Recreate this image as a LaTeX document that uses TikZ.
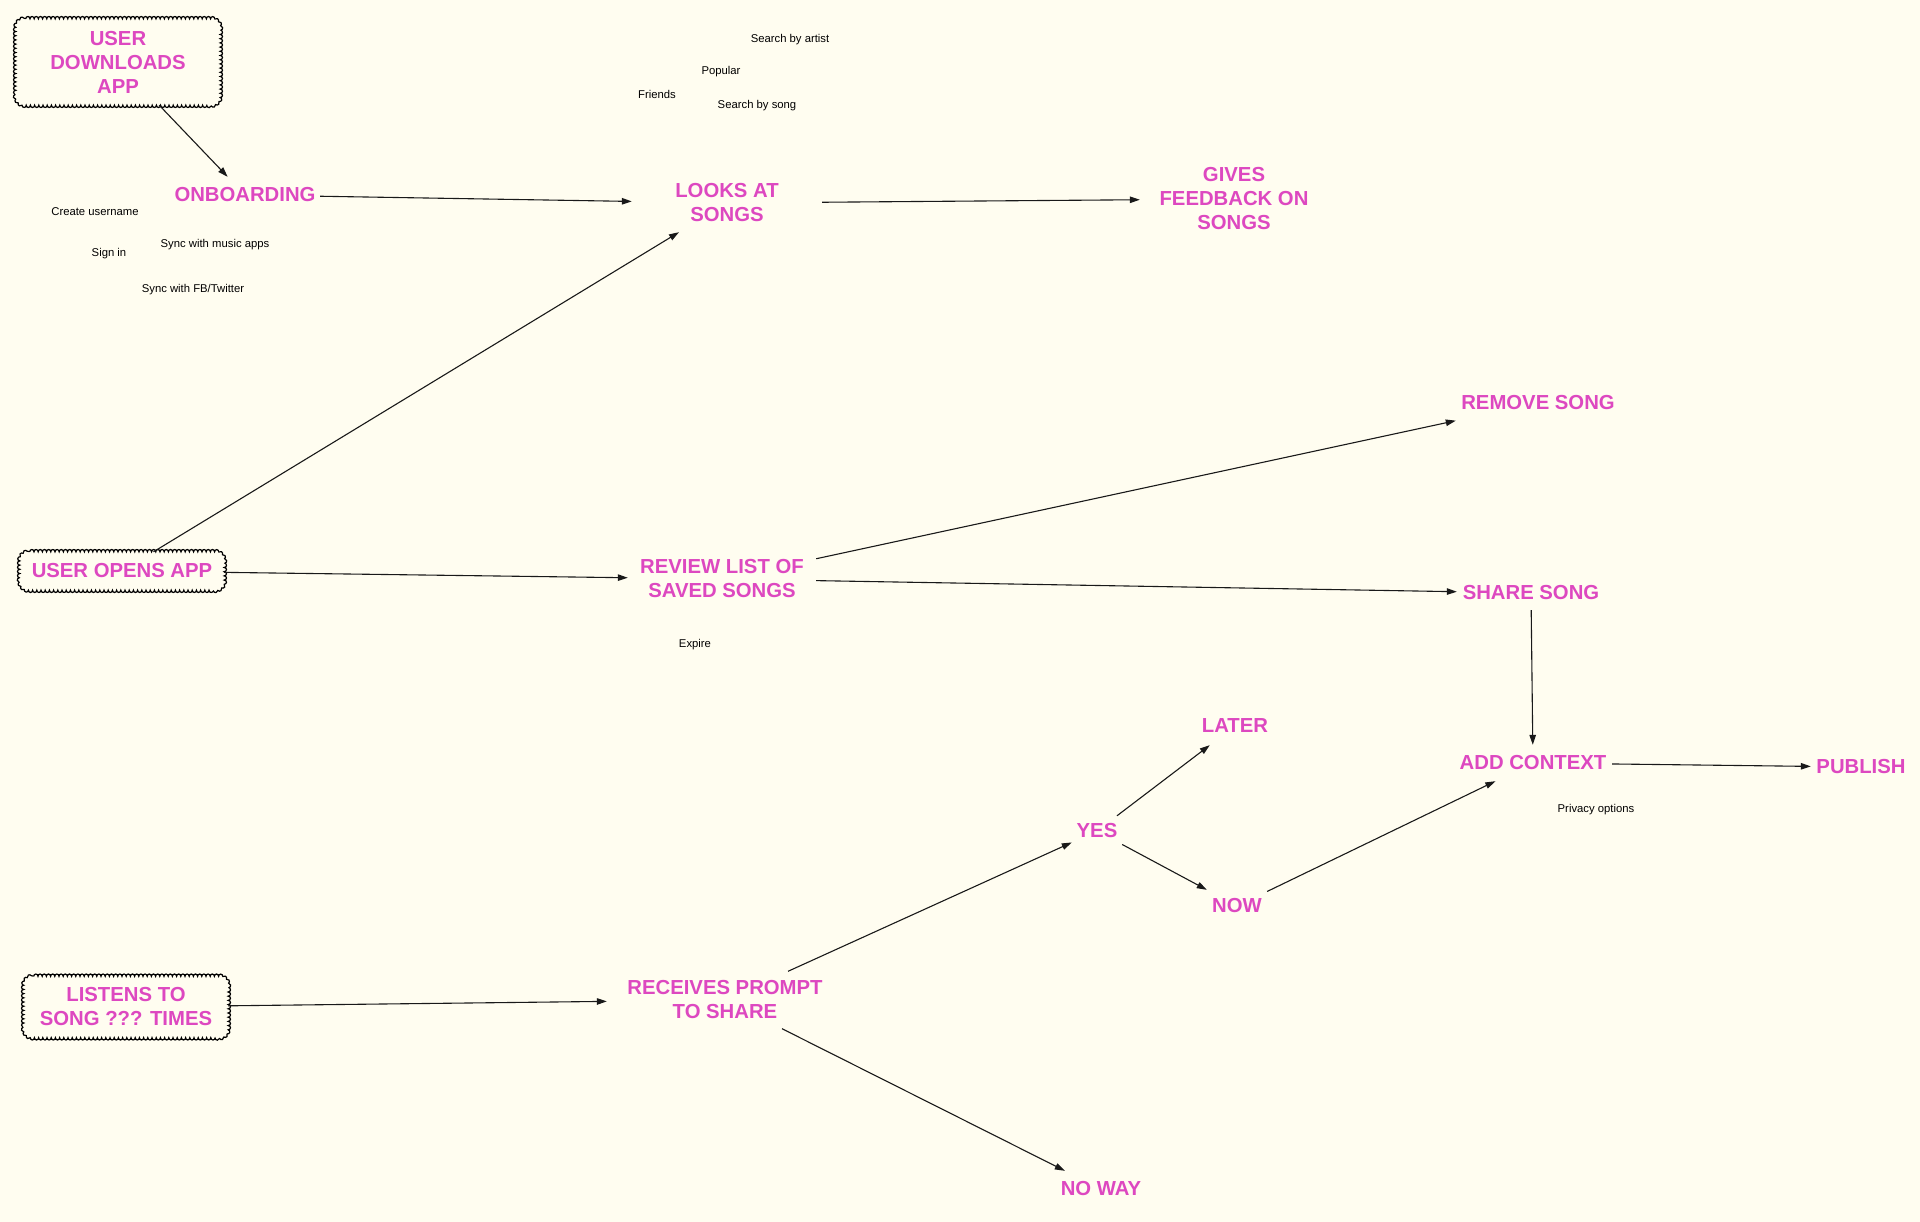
\documentclass[tikz,border=0pt]{standalone}
\usepackage{fontspec}
\setmainfont{Liberation Sans}
\usetikzlibrary{arrows.meta,decorations.pathmorphing,calc}
\definecolor{bgcream}{RGB}{255,253,240}
\definecolor{pinktxt}{RGB}{221,72,192}
\definecolor{arrowcol}{RGB}{25,25,25}
\tikzset{
  x=1pt, y=-1pt,
  pinknode/.style={text=pinktxt, inner sep=0pt, align=center,
    font=\bfseries\fontsize{20.3}{24}\selectfont},
  cloudbox/.style={pinknode},
  scallop/.style={draw=black, line width=1.2pt, decorate,
    decoration={bumps, segment length=8.4pt, amplitude=2.3pt}},
  note/.style={text=black, inner sep=0pt, font=\fontsize{11.3}{13}\selectfont},
  flow/.style={draw=arrowcol, line width=1.1pt, -{Triangle[length=10pt,width=6.5pt]}}
}
\newcommand\cloudoutline[1]{%
  \begin{scope}[y=1pt]
  \draw[scallop] ($(#1.north west)+(10,0)$) -- ($(#1.north east)+(-10,0)$)
    arc[start angle=90,end angle=0,radius=10] -- ($(#1.south east)+(0,10)$)
    arc[start angle=0,end angle=-90,radius=10] -- ($(#1.south west)+(10,0)$)
    arc[start angle=270,end angle=180,radius=10] -- ($(#1.north west)+(0,-10)$)
    arc[start angle=180,end angle=90,radius=10] -- cycle;
  \end{scope}}
\begin{document}
\begin{tikzpicture}
\fill[bgcream] (0,0) rectangle (1920,1222);
\useasboundingbox (0,0) rectangle (1920,1222);

% main nodes
\node[cloudbox, minimum width=204, minimum height=86] (dl) at (118,62) {USER\\DOWNLOADS\\APP};
\node[pinknode, minimum width=150, minimum height=36] (onb) at (245,195) {ONBOARDING};
\node[pinknode, minimum width=190, minimum height=58] (looks) at (727,203) {LOOKS AT\\SONGS};
\node[pinknode, minimum width=188, minimum height=82] (gives) at (1234,199) {GIVES\\FEEDBACK ON\\SONGS};
\node[cloudbox, minimum width=204, minimum height=38] (opens) at (122,571) {USER OPENS APP};
\node[pinknode, minimum width=188, minimum height=58] (review) at (722,579) {REVIEW LIST OF\\SAVED SONGS};
\node[pinknode, minimum width=164, minimum height=40] (remove) at (1538,403) {REMOVE SONG};
\node[pinknode, minimum width=148, minimum height=34] (share) at (1531,593) {SHARE SONG};
\node[pinknode, minimum width=158, minimum height=36] (addc) at (1533,763) {ADD CONTEXT};
\node[pinknode, minimum width=100, minimum height=36] (publish) at (1861,767) {PUBLISH};
\node[pinknode, minimum width=80, minimum height=38] (later) at (1235,726) {LATER};
\node[pinknode, minimum width=50, minimum height=30] (yes) at (1097,831) {YES};
\node[pinknode, minimum width=60, minimum height=34] (now) at (1237,906) {NOW};
\node[cloudbox, minimum width=204, minimum height=61] (listens) at (126,1007) {LISTENS TO\\SONG ??? TIMES};
\node[pinknode, minimum width=236, minimum height=57] (receives) at (725,1000) {RECEIVES PROMPT\\TO SHARE};
\node[pinknode, minimum width=96, minimum height=36] (noway) at (1101,1189) {NO WAY};

\cloudoutline{dl}
\cloudoutline{opens}
\cloudoutline{listens}

% notes
\node[note] (n1) at (95,212) {Create username};
\node[note] (n2) at (109,254) {Sign in};
\node[note] (n3) at (215,245) {Sync with music apps};
\node[note] (n4) at (193,290) {Sync with FB/Twitter};
\node[note] (n5) at (790,40) {Search by artist};
\node[note] (n6) at (721,72) {Popular};
\node[note] (n7) at (657,94) {Friends};
\node[note] (n8) at (757,106) {Search by song};
\node[note] (n9) at (695,645) {Expire};
\node[note] (n10) at (1596,810) {Privacy options};

% connectors
\draw[flow] (dl) -- (onb);
\draw[flow] (onb) -- (looks);
\draw[flow] (looks) -- (gives);
\draw[flow] (opens) -- (looks);
\draw[flow] (opens) -- (review);
\draw[flow] (review) -- (remove);
\draw[flow] (review) -- (share);
\draw[flow] (share) -- (addc);
\draw[flow] (addc) -- (publish);
\draw[flow] (now) -- (addc);
\draw[flow] (yes) -- (later);
\draw[flow] (yes) -- (now);
\draw[flow] (listens) -- (receives);
\draw[flow] (receives) -- (yes);
\draw[flow] (receives) -- (noway);
\end{tikzpicture}
\end{document}
